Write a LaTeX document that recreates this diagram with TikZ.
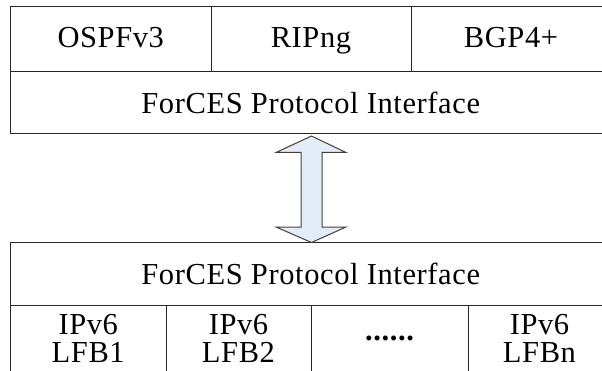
\documentclass[tikz,border=0pt]{standalone}
\usepackage{fontspec}
\setmainfont[LetterSpace=2]{Liberation Serif}
\definecolor{arrowfill}{RGB}{228,236,247}
\tikzset{
  cell/.style={draw=black!85, line width=1pt, rectangle, inner sep=0pt, outer sep=0pt,
    anchor=north west, align=center, font=\fontsize{30.5}{28}\selectfont},
  bigarrow/.style={draw=black!75, line width=1pt, fill=arrowfill, line join=miter},
}
\begin{document}
\begin{tikzpicture}[x=1pt,y=1pt]
\useasboundingbox (0,0) rectangle (602,370);
\clip (0,0) rectangle (602,370);
% upper (CE) stack
\node[cell, minimum width=200.5pt, minimum height=65pt, text depth=4pt] (ospf) at (10.5,363) {OSPFv3};
\node[cell, minimum width=200pt, minimum height=65pt, text depth=4pt] (rip) at (211,363) {RIPng};
\node[cell, minimum width=200pt, minimum height=65pt, text depth=4pt] (bgp) at (411,363) {BGP4+};
\node[cell, minimum width=600.5pt, minimum height=62pt] (fpi1) at (10.5,298) {ForCES Protocol Interface};
% lower (FE) stack
\node[cell, minimum width=600.5pt, minimum height=63pt] (fpi2) at (10.5,127.5) {ForCES Protocol Interface};
\node[cell, minimum width=155.5pt, minimum height=66pt] (lfb1) at (10.5,64.5) {IPv6\\LFB1};
\node[cell, minimum width=145pt, minimum height=66pt] (lfb2) at (166,64.5) {IPv6\\LFB2};
\node[cell, minimum width=157pt, minimum height=66pt] (dots) at (311,64.5) {\bfseries ......};
\node[cell, minimum width=143pt, minimum height=66pt] (lfbn) at (468,64.5) {IPv6\\LFBn};
% double arrow between the two interfaces
\coordinate (atop) at (311.5,234);
\coordinate (abot) at (311.5,127.5);
\draw[bigarrow] (atop) -- ++(34.5,-16.5) -- ++(-24,0) |- ([xshift=10.5pt,yshift=15.5pt]abot)
  -- ++(24,0) -- (abot) -- ++(-35.5,15.5) -- ++(25,0) |- ([xshift=-10.5pt,yshift=-16.5pt]atop)
  -- ++(-25,0) -- cycle;
\end{tikzpicture}
\end{document}
